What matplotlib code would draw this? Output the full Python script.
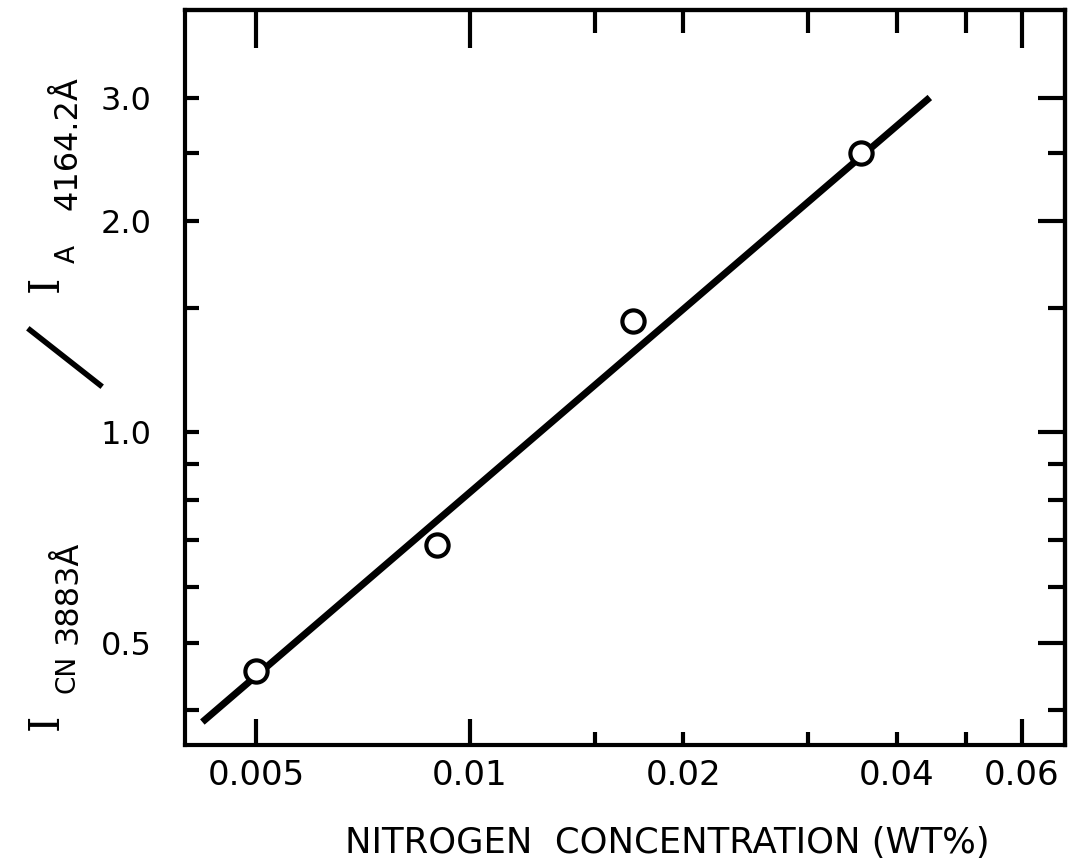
import matplotlib.pyplot as plt
from matplotlib.lines import Line2D
from matplotlib.ticker import FixedLocator, FixedFormatter, NullFormatter

# measured points (nitrogen wt% vs intensity ratio)
conc = [0.005, 0.009, 0.017, 0.0356]
ratio = [0.455, 0.688, 1.44, 2.5]

# straight line through the points, given by its two ends
fit_conc = [0.0042, 0.0445]
fit_ratio = [0.385, 3.0]

x_major = [0.005, 0.01, 0.06]
x_major_labels = ["0.005", "0.01", "0.06"]
x_minor = [0.015, 0.02, 0.03, 0.04, 0.05]
x_minor_labels = ["", "0.02", "", "0.04", ""]
y_major = [0.5, 1.0, 2.0, 3.0]
y_major_labels = ["0.5", "1.0", "2.0", "3.0"]
y_minor = [0.4, 0.6, 0.7, 0.8, 0.9, 1.5, 2.5]

W, H = 1080, 867
fig = plt.figure(figsize=(W / 100, H / 100), dpi=100)
ax = fig.add_axes([185 / W, 1 - 745 / H, 880 / W, 735 / H])
ax.set_xscale("log")
ax.set_yscale("log")
ax.set_xlim(0.00397, 0.069)
ax.set_ylim(0.357, 4.0)

ax.plot(fit_conc, fit_ratio, color="black", lw=5, solid_capstyle="butt", zorder=2)
ax.plot(conc, ratio, "o", ms=16, mfc="white", mec="black", mew=3, zorder=3)

for s in ax.spines.values():
    s.set_linewidth(3)

px = 1 / 1.389  # pixels -> points

# bottom / left ticks
ax.xaxis.set_major_locator(FixedLocator(x_major))
ax.xaxis.set_major_formatter(FixedFormatter(x_major_labels))
ax.xaxis.set_minor_locator(FixedLocator(x_minor))
ax.xaxis.set_minor_formatter(FixedFormatter(x_minor_labels))
ax.yaxis.set_major_locator(FixedLocator(y_major))
ax.yaxis.set_major_formatter(FixedFormatter(y_major_labels))
ax.yaxis.set_minor_locator(FixedLocator(y_minor))
ax.yaxis.set_minor_formatter(NullFormatter())

ax.tick_params(axis="x", which="major", direction="in", length=26 * px, width=3,
               labelsize=24.5, pad=10)
ax.tick_params(axis="x", which="minor", direction="in", length=13 * px, width=3,
               labelsize=24.5, pad=10)
ax.tick_params(axis="y", which="both", direction="in", length=14 * px, width=3,
               labelsize=23, pad=24)

# top ticks
top = ax.secondary_xaxis("top")
top.xaxis.set_major_locator(FixedLocator(x_major))
top.xaxis.set_minor_locator(FixedLocator(x_minor))
top.xaxis.set_major_formatter(NullFormatter())
top.xaxis.set_minor_formatter(NullFormatter())
top.tick_params(which="major", direction="in", length=38 * px, width=3)
top.tick_params(which="minor", direction="in", length=23 * px, width=3)
top.spines["top"].set_linewidth(3)

# right ticks
right = ax.secondary_yaxis("right")
right.yaxis.set_major_locator(FixedLocator(y_major))
right.yaxis.set_minor_locator(FixedLocator(y_minor))
right.yaxis.set_major_formatter(NullFormatter())
right.yaxis.set_minor_formatter(NullFormatter())
right.tick_params(which="major", direction="in", length=27 * px, width=3)
right.tick_params(which="minor", direction="in", length=17 * px, width=3)
right.spines["right"].set_linewidth(3)

# axis titles
fig.text(667 / W, 1 - 843 / H, "NITROGEN  CONCENTRATION (WT%)", fontsize=25.5,
         ha="center", va="center")

def ylab(x, y, s, size):
    fig.text(x / W, 1 - y / H, s, rotation=90, fontsize=size, ha="center",
             va="center", family="DejaVu Serif" if s == "I" else "DejaVu Sans")

ylab(46, 722, "I", 30)
ylab(68, 674, "CN", 19)
ylab(68, 592, "3883Å", 23)
ylab(46, 284, "I", 30)
ylab(68, 254, "A", 19)
ylab(68, 143, "4164.2Å", 23)
fig.add_artist(Line2D([30 / W, 100 / W], [1 - 330 / H, 1 - 385 / H],
                      color="black", lw=4))

fig.savefig("out.png", dpi=100)
